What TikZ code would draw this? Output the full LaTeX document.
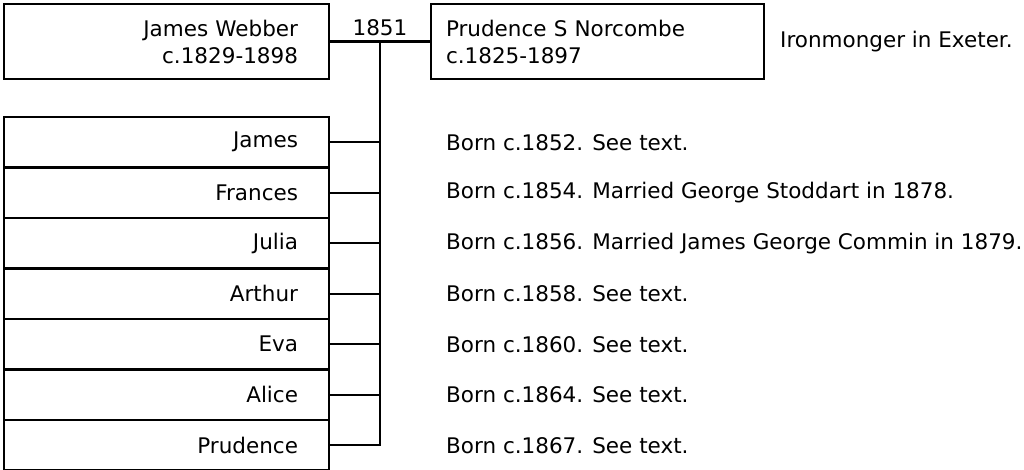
\documentclass[tikz,border=0pt]{standalone}
\usepackage{fontspec}
\setmainfont{DejaVu Sans}
\usetikzlibrary{positioning,calc}

\begin{document}
\begin{tikzpicture}[
    x=1pt, y=-1pt,
    node distance=0pt,
    personbox/.style={
        rectangle, draw=black, line width=2.4pt, outer sep=0pt,
        minimum height=75pt, inner ysep=0pt,
        font=\fontsize{21.5}{27}\selectfont
    },
    childbox/.style={
        rectangle, draw=black, line width=2.4pt, outer sep=0pt,
        text width=263pt, inner xsep=31pt, inner ysep=0pt, align=right,
        minimum height=50.5pt, font=\fontsize{21.5}{27}\selectfont
    },
    notetext/.style={inner sep=0pt, anchor=west, font=\fontsize{21.5}{27}\selectfont},
    famline/.style={draw=black, line width=2.4pt}
]
    \useasboundingbox (0,0) rectangle (1024,470);

    % parents
    \node[personbox, text width=263pt, inner xsep=31pt, align=right, anchor=north west] (jwebber) at (4,4) {James Webber\\c.1829-1898};
    \node[personbox, text width=303pt, inner xsep=15pt, align=left, right=102pt of jwebber] (pnorcombe) {Prudence S Norcombe\\c.1825-1897};
    \node[notetext, right=16pt of pnorcombe] (ironmonger) {Ironmonger in Exeter.};

    \coordinate (wed) at ($(jwebber.east)!0.5!(pnorcombe.west)$);
    \node[notetext, anchor=south, above=5pt of wed] (wedyear) {1851};

    % children
    \node[childbox, below=38pt of jwebber] (james) {James};
    \node[childbox, below=of james] (frances) {Frances};
    \node[childbox, below=of frances] (julia) {Julia};
    \node[childbox, below=of julia] (arthur) {Arthur};
    \node[childbox, below=of arthur] (eva) {Eva};
    \node[childbox, below=of eva] (alice) {Alice};
    \node[childbox, below=of alice] (prudence) {Prudence};

    \node[notetext, right=117pt of james] (jamesnote) {Born c.1852. See text.};
    \node[notetext, right=117pt of frances] (francesnote) {Born c.1854. Married George Stoddart in 1878.};
    \node[notetext, right=117pt of julia] (julianote) {Born c.1856. Married James George Commin in 1879.};
    \node[notetext, right=117pt of arthur] (arthurnote) {Born c.1858. See text.};
    \node[notetext, right=117pt of eva] (evanote) {Born c.1860. See text.};
    \node[notetext, right=117pt of alice] (alicenote) {Born c.1864. See text.};
    \node[notetext, right=117pt of prudence] (prudencenote) {Born c.1867. See text.};

    % lines
    \draw[famline] (jwebber.east) -- (pnorcombe.west);
    \draw[famline] (prudence.east) -| (wed);
    \draw[famline] (james.east) -- (james.east -| wed);
    \draw[famline] (frances.east) -- (frances.east -| wed);
    \draw[famline] (julia.east) -- (julia.east -| wed);
    \draw[famline] (arthur.east) -- (arthur.east -| wed);
    \draw[famline] (eva.east) -- (eva.east -| wed);
    \draw[famline] (alice.east) -- (alice.east -| wed);
\end{tikzpicture}
\end{document}
